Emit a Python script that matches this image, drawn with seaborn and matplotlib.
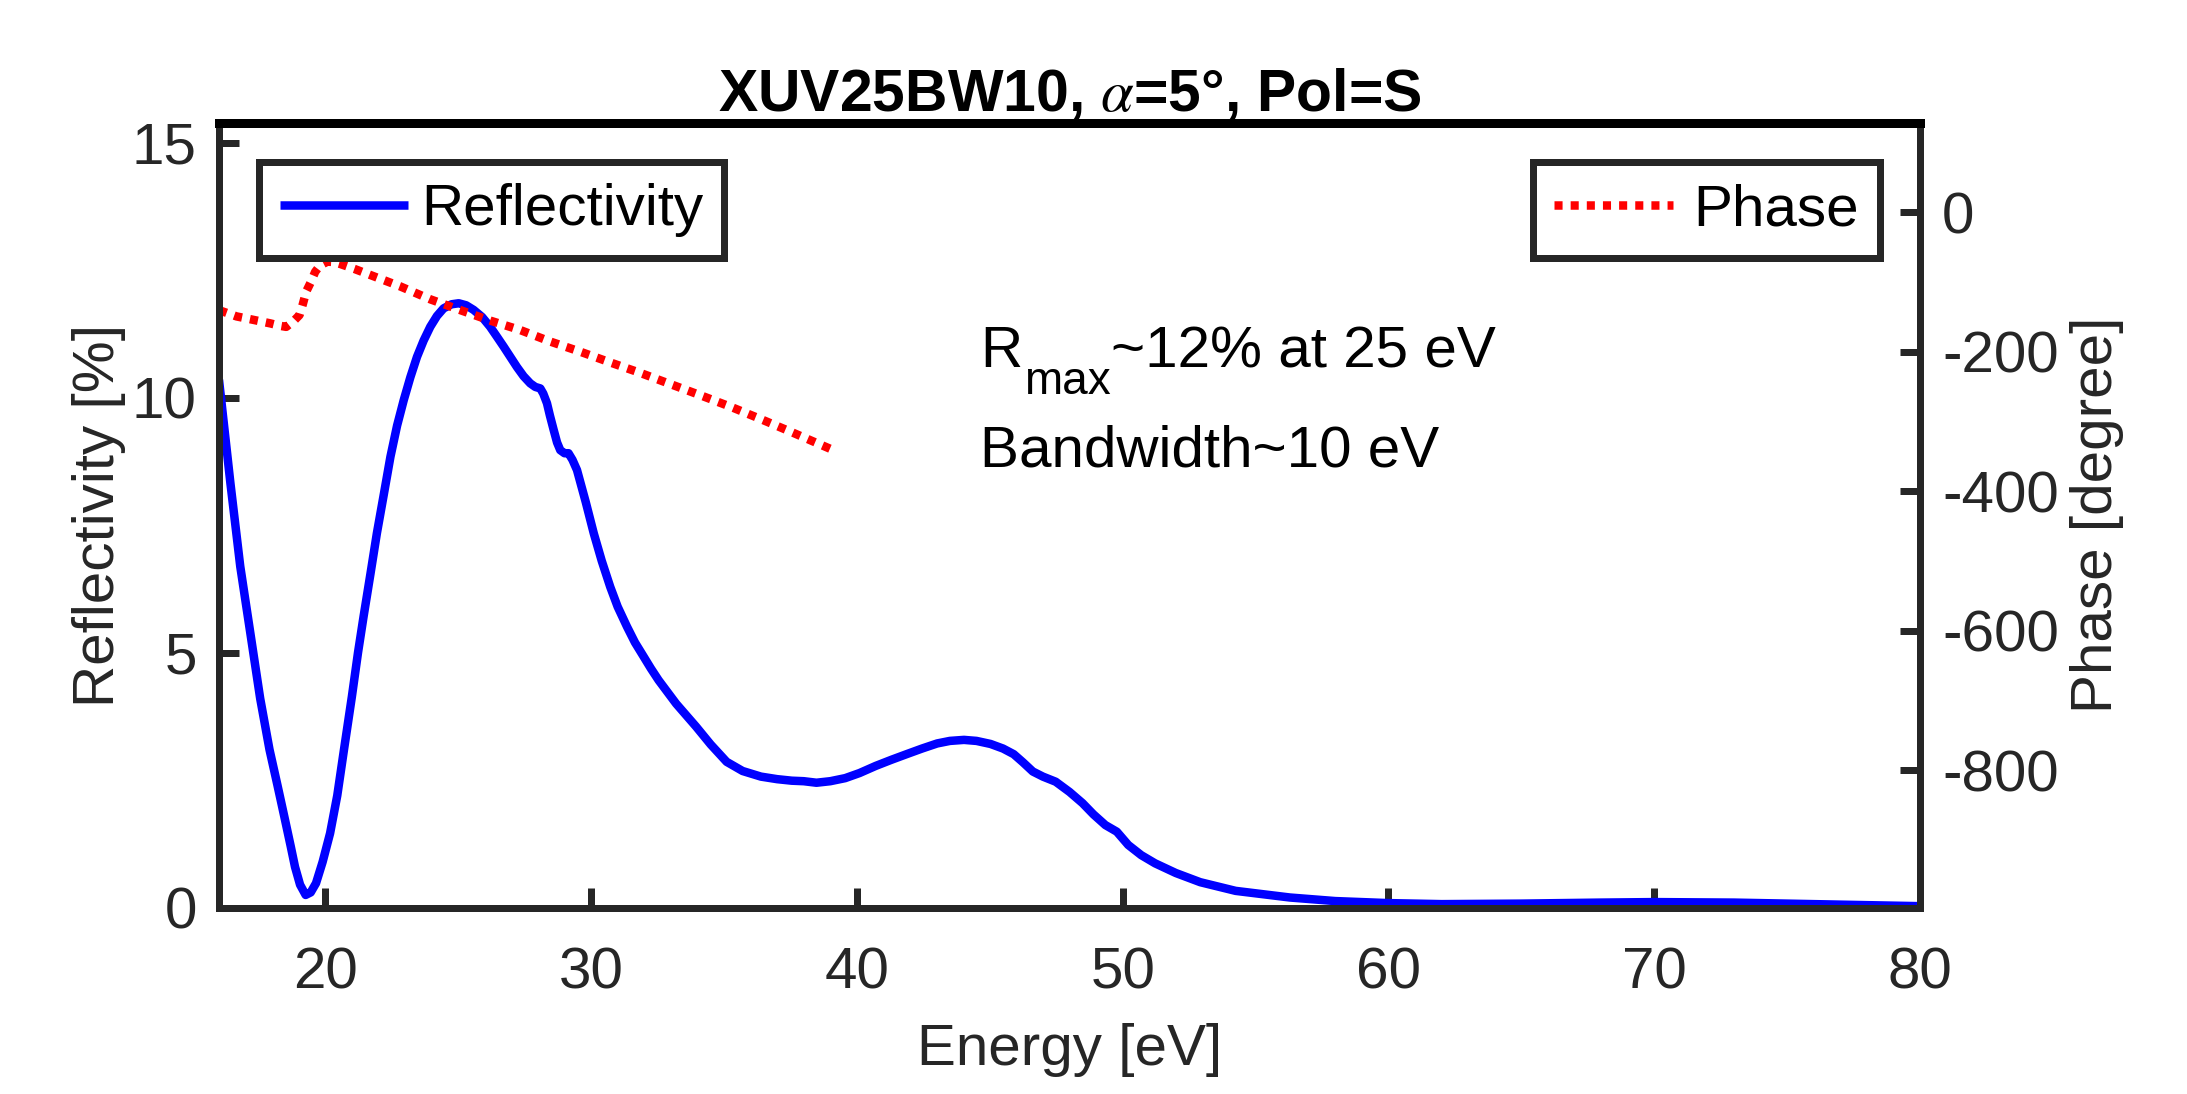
import numpy as np
import pandas as pd
import matplotlib
matplotlib.use("Agg")
import matplotlib.pyplot as plt
import seaborn as sns

# ---------------- data ----------------
energy_refl = [16.0, 16.43, 16.8, 17.18, 17.55, 17.9, 18.2, 18.46, 18.7, 18.86, 19.05, 19.26,
               19.45, 19.65, 19.9, 20.18, 20.45, 20.7, 21.0, 21.23, 21.44, 21.7, 21.94, 22.2,
               22.45, 22.7, 22.95, 23.2, 23.45, 23.7, 23.95, 24.2, 24.45, 24.75, 25.02, 25.3,
               25.58, 25.9, 26.2, 26.45, 26.71, 26.96, 27.21, 27.46, 27.71, 27.9, 28.09, 28.2,
               28.34, 28.45, 28.59, 28.72, 28.84, 29.0, 29.15, 29.3, 29.47, 29.8, 30.1, 30.4,
               30.72, 31.0, 31.35, 31.65, 31.98, 32.25, 32.54, 33.2, 33.95, 34.5, 35.1, 35.7,
               36.39, 37.0, 37.55, 38.0, 38.48, 39.0, 39.56, 40.1, 40.71, 41.3, 41.87, 42.45,
               43.02, 43.5, 44.03, 44.5, 45.03, 45.5, 45.9, 46.25, 46.62, 47.0, 47.48, 48.0,
               48.49, 48.9, 49.35, 49.78, 50.21, 50.7, 51.22, 52.0, 52.92, 54.25, 56.29, 58.0,
               60.0, 62.0, 65.0, 68.0, 70.0, 73.0, 76.0, 78.0, 80.0]
reflectivity = [10.35, 8.32, 6.69, 5.38, 4.1, 3.1, 2.4, 1.78, 1.2, 0.80, 0.45, 0.25,
                0.3, 0.48, 0.9, 1.46, 2.2, 3.09, 4.14, 5.0, 5.71, 6.55, 7.34, 8.1,
                8.84, 9.45, 9.95, 10.4, 10.8, 11.12, 11.39, 11.6, 11.75, 11.83, 11.85, 11.81,
                11.72, 11.58, 11.39, 11.2, 11.0, 10.8, 10.6, 10.42, 10.28, 10.21, 10.18, 10.08,
                9.89, 9.65, 9.37, 9.12, 8.97, 8.91, 8.91, 8.78, 8.58, 7.95, 7.34, 6.8,
                6.29, 5.9, 5.51, 5.2, 4.92, 4.69, 4.46, 4.0, 3.55, 3.2, 2.86, 2.68,
                2.57, 2.52, 2.49, 2.48, 2.45, 2.48, 2.54, 2.64, 2.78, 2.9, 3.01, 3.12,
                3.22, 3.27, 3.29, 3.27, 3.21, 3.12, 3.01, 2.85, 2.67, 2.57, 2.47, 2.27,
                2.05, 1.83, 1.62, 1.49, 1.23, 1.03, 0.87, 0.68, 0.5, 0.33, 0.2, 0.13,
                0.09, 0.07, 0.08, 0.10, 0.11, 0.10, 0.07, 0.05, 0.03]

energy_phase = [16.0, 16.66, 17.3, 17.93, 18.3, 18.53, 18.8, 19.03, 19.15, 19.28, 19.44, 19.62,
                19.8, 20.08, 20.3, 20.56, 21.1, 21.69, 22.82, 23.95, 25.08, 26.2, 27.33, 28.46,
                29.59, 30.72, 31.85, 32.98, 34.11, 35.24, 36.37, 37.49, 38.4, 39.25]
phase = [-140, -149, -154, -159, -162.5, -164, -156, -147, -132, -113.5, -101, -85,
         -76, -70.5, -71, -73.8, -81, -89.6, -106, -124.5, -140, -155, -168.5, -185,
         -199.6, -215, -230, -246, -262, -278.4, -296, -314, -329, -343]

x_ticks = [20, 30, 40, 50, 60, 70, 80]
refl_ticks = [0, 5, 10, 15]
phase_ticks = [0, -200, -400, -600, -800]

title_text = "XUV25BW10, $\\alpha$=5°, Pol=S"
xlabel_text = "Energy [eV]"
ylabel_left = "Reflectivity [%]"
ylabel_right = "Phase [degree]"
legend_refl = "Reflectivity"
legend_phase = "Phase"
note_main = "R"
note_sub = "max"
note_rest = "~12% at 25 eV"
note_line2 = "Bandwidth~10 eV"

# ---------------- style ----------------
sns.set_theme(style="white")
plt.rcParams['font.family'] = ['Liberation Sans', 'DejaVu Sans']
plt.rcParams['mathtext.fontset'] = 'stix'

DPI = 200
PX = 72.0 / DPI          # points per pixel
FS = 21
DARK = '#262626'
LW = 8.5 * PX
SPW = 7 * PX

fig = plt.figure(figsize=(2187 / DPI, 1094 / DPI), dpi=DPI)
fig.patch.set_facecolor('white')
ax = fig.add_axes([219 / 2187, 1 - 907.7 / 1094, (1920 - 219) / 2187, (907.7 - 122.7) / 1094])
ax2 = ax.twinx()

df_r = pd.DataFrame({'Energy': energy_refl, 'Reflectivity': reflectivity})
df_p = pd.DataFrame({'Energy': energy_phase, 'Phase': phase})

sns.lineplot(data=df_r, x='Energy', y='Reflectivity', ax=ax, color='#0000FF',
             linewidth=LW, sort=False, estimator=None, legend=False)
sns.lineplot(data=df_p, x='Energy', y='Phase', ax=ax2, color='#FF0000',
             linewidth=LW, sort=False, estimator=None, legend=False,
             linestyle=(0, (0.95, 0.95)), dash_capstyle='butt')

line_r = ax.get_lines()[0]
line_p = ax2.get_lines()[0]
line_r.set_solid_capstyle('butt')

ax.set_xlim(16, 80)
ax.set_ylim(0, 15.39)
ax2.set_ylim(-996.7, 128.7)
ax.set_xticks(x_ticks)
ax.set_yticks(refl_ticks)
ax2.set_yticks(phase_ticks)
ax.set_xticklabels([str(v) for v in x_ticks])
ax.set_yticklabels([str(v) for v in refl_ticks])
ax2.set_yticklabels([str(v) for v in phase_ticks])

ax.tick_params(axis='x', which='both', direction='in', length=20 * PX, width=SPW,
               bottom=True, top=False, colors=DARK, labelsize=FS, pad=14)
ax.tick_params(axis='y', which='both', direction='in', length=20 * PX, width=SPW,
               left=True, right=False, colors=DARK, labelsize=FS, pad=8)
ax2.tick_params(axis='y', which='both', direction='in', length=20 * PX, width=SPW,
                left=False, right=True, colors=DARK, labelsize=FS, pad=8)

ax.set_xlabel(xlabel_text, fontsize=FS, color=DARK, labelpad=8)
ax.set_ylabel(ylabel_left, fontsize=FS, color=DARK, labelpad=2)
ax2.set_ylabel(ylabel_right, fontsize=FS, color=DARK, labelpad=4)
ax.set_title(title_text, fontsize=21.2, fontweight='bold', color='black', pad=1)

for s in ax.spines.values():
    s.set_visible(False)
for name, s in ax2.spines.items():
    s.set_visible(True)
    s.set_color(DARK)
    s.set_linewidth(SPW)
ax2.spines['top'].set_color('black')
ax2.spines['top'].set_linewidth(9 * PX)
ax.grid(False)
ax2.grid(False)

# annotation text (MATLAB-like subscript: larger and lower than mathtext)
t1 = ax.text(44.63, 10.6, note_main, fontsize=FS, color='black', ha='left', va='baseline')
t2 = ax.annotate(note_sub, xy=(1, 0), xycoords=t1, xytext=(0.6, -9.0),
                 textcoords='offset points', fontsize=16.5, color='black',
                 ha='left', va='bottom')
t3 = ax.annotate(note_rest, xy=(1, 0), xycoords=(t2, t1), xytext=(0.3, 0),
                 textcoords='offset points', fontsize=FS, color='black',
                 ha='left', va='bottom')
ax.text(44.63, 8.64, note_line2, fontsize=FS, color='black', ha='left', va='baseline')

# legends
leg1 = ax2.legend([line_r], [legend_refl], loc='upper left', fontsize=FS, frameon=True,
                  fancybox=False, framealpha=1, edgecolor=DARK, borderpad=0.36,
                  handlelength=2.2, handletextpad=0.22, borderaxespad=0.68)
leg1.get_frame().set_linewidth(SPW)
ax2.add_artist(leg1)
leg2 = ax2.legend([line_p], [legend_phase], loc='upper right', fontsize=FS, frameon=True,
                  fancybox=False, framealpha=1, edgecolor=DARK, borderpad=0.36,
                  handlelength=2.05, handletextpad=0.35, borderaxespad=0.68)
leg2.get_frame().set_linewidth(SPW)
for leg in (leg1, leg2):
    for t in leg.get_texts():
        t.set_color('black')

fig.savefig('out.png', dpi=DPI, facecolor='white')
